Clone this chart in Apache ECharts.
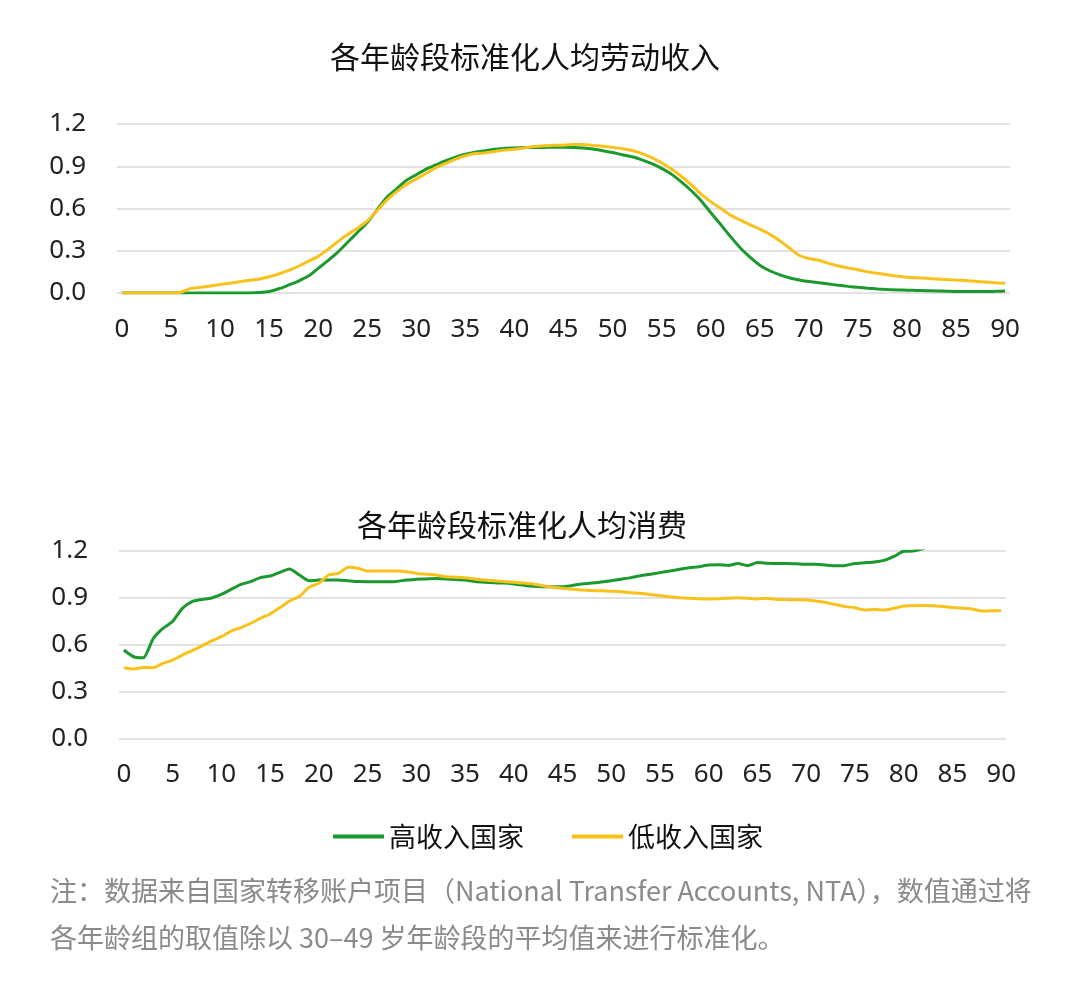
<!DOCTYPE html>
<html>
<head>
<meta charset="utf-8">
<script src="https://cdn.jsdelivr.net/npm/echarts@6/dist/echarts.min.js"></script>
<style>
    html, body {margin: 0; padding: 0; background: #fff;}
    #chart {width: 1080px; height: 981px;}
</style>
</head>
<body>
<div id="chart"></div>
<script>
    // 年龄 0-90
    var ages = [];
    for (var a = 0; a <= 90; a++) ages.push(String(a));

    var yTicks = [0, 0.3, 0.6, 0.9, 1.2];
    var seriesNames = ['高收入国家', '低收入国家'];

    // 各年龄段标准化人均劳动收入
    var laborHigh = [
        0, 0, 0, 0, 0, 0, 0, 0, 0, 0,
        0, 0, 0, 0, 0.003, 0.01, 0.03, 0.057, 0.085, 0.12,
        0.175, 0.23, 0.29, 0.36, 0.43, 0.5, 0.59, 0.68, 0.74, 0.8,
        0.84, 0.88, 0.91, 0.94, 0.965, 0.985, 1.0, 1.01, 1.02, 1.028,
        1.03, 1.033, 1.034, 1.034, 1.035, 1.035, 1.034, 1.03, 1.022, 1.01,
        0.997, 0.982, 0.967, 0.945, 0.918, 0.885, 0.844, 0.789, 0.728, 0.657,
        0.571, 0.488, 0.402, 0.321, 0.254, 0.197, 0.158, 0.13, 0.108, 0.093,
        0.081, 0.073, 0.064, 0.055, 0.047, 0.04, 0.034, 0.029, 0.025, 0.022,
        0.02, 0.018, 0.016, 0.015, 0.013, 0.01, 0.01, 0.01, 0.01, 0.012,
        0.014
    ];
    var laborLow = [
        0, 0, 0, 0, 0, 0, 0.005, 0.033, 0.04, 0.05,
        0.06, 0.07, 0.08, 0.09, 0.1, 0.115, 0.135, 0.16, 0.19, 0.225,
        0.26, 0.31, 0.365, 0.415, 0.46, 0.51, 0.585, 0.66, 0.72, 0.77,
        0.81, 0.85, 0.89, 0.92, 0.95, 0.975, 0.99, 0.995, 1.005, 1.015,
        1.02, 1.03, 1.04, 1.045, 1.05, 1.05, 1.055, 1.055, 1.048, 1.042,
        1.034, 1.025, 1.012, 0.99, 0.961, 0.923, 0.88, 0.829, 0.77, 0.704,
        0.649, 0.602, 0.553, 0.519, 0.485, 0.453, 0.418, 0.373, 0.321, 0.268,
        0.245, 0.232, 0.21, 0.192, 0.178, 0.165, 0.15, 0.14, 0.13, 0.12,
        0.112, 0.108, 0.104, 0.1, 0.096, 0.092, 0.088, 0.083, 0.078, 0.073,
        0.069
    ];

    // 各年龄段标准化人均消费
    var consHigh = [
        0.568, 0.525, 0.518, 0.64, 0.706, 0.75, 0.834, 0.877, 0.89, 0.9,
        0.923, 0.955, 0.987, 1.004, 1.03, 1.04, 1.064, 1.085, 1.047, 1.01,
        1.015, 1.015, 1.015, 1.01, 1.005, 1.004, 1.004, 1.004, 1.006, 1.015,
        1.019, 1.022, 1.025, 1.022, 1.018, 1.015, 1.005, 1.0, 0.997, 0.995,
        0.99, 0.982, 0.975, 0.972, 0.972, 0.972, 0.98, 0.99, 0.995, 1.002,
        1.01, 1.02, 1.03, 1.042, 1.052, 1.062, 1.072, 1.083, 1.093, 1.1,
        1.11, 1.112, 1.108, 1.12, 1.106, 1.126, 1.122, 1.12, 1.12, 1.118,
        1.115, 1.115, 1.11, 1.106, 1.108, 1.12, 1.125, 1.13, 1.14, 1.165,
        1.198, 1.2, 1.215, 1.24, 1.27, 1.3, 1.33, 1.36, 1.39, 1.42,
        1.45
    ];
    var consLow = [
        0.455, 0.447, 0.457, 0.455, 0.483, 0.504, 0.536, 0.564, 0.594, 0.626,
        0.653, 0.689, 0.711, 0.738, 0.77, 0.798, 0.838, 0.881, 0.909, 0.968,
        0.994, 1.047, 1.057, 1.096, 1.09, 1.072, 1.072, 1.072, 1.072, 1.068,
        1.057, 1.052, 1.047, 1.036, 1.033, 1.03, 1.022, 1.015, 1.01, 1.005,
        1.0, 0.995, 0.99, 0.978, 0.968, 0.962, 0.956, 0.951, 0.948, 0.946,
        0.943, 0.94, 0.934, 0.93, 0.922, 0.915, 0.908, 0.902, 0.898, 0.895,
        0.894, 0.895, 0.898, 0.902, 0.898, 0.894, 0.898, 0.891, 0.89, 0.889,
        0.887, 0.88, 0.872, 0.858, 0.845, 0.838, 0.823, 0.828, 0.823, 0.834,
        0.849, 0.851, 0.852, 0.851, 0.846, 0.84, 0.835, 0.83, 0.817, 0.818,
        0.819
    ];

    var colors = ['#1a9a2e', '#f9c11c'];
    var font = '"Noto Sans", "Noto Sans CJK SC", sans-serif';
    var cjkFont = '"Noto Sans CJK SC", sans-serif';

    function xAxisOf(gridIndex, margin) {
        return {
            type       : 'category',
            gridIndex  : gridIndex,
            data       : ages,
            boundaryGap: true,
            axisLine   : {show: false},
            axisTick   : {show: false},
            axisLabel  : {interval: 4, margin: margin, fontSize: 26, color: '#222', fontFamily: font}
        };
    }

    function yAxisOf(gridIndex) {
        return {
            type     : 'value',
            gridIndex: gridIndex,
            min      : yTicks[0],
            max      : yTicks[yTicks.length - 1],
            interval : 0.3,
            axisLine : {show: false},
            axisTick : {show: false},
            axisLabel: {
                margin    : 31,
                fontSize  : 26,
                color     : '#222',
                fontFamily: font,
                formatter : function (v) { return v.toFixed(1); }
            },
            splitLine: {lineStyle: {color: '#d9d9d9', width: 1.5}}
        };
    }

    function lineOf(name, xi, data, color) {
        return {
            name      : name,
            type      : 'line',
            xAxisIndex: xi,
            yAxisIndex: xi,
            data      : data,
            symbol    : 'none',
            smooth    : 0.2,
            clip      : true,
            lineStyle : {color: color, width: 3},
            itemStyle : {color: color}
        };
    }

    var myChart = echarts.init(document.getElementById('chart'));
    var option = {
        animation: false,
        textStyle: {fontFamily: cjkFont},
        title    : [
            {
                text     : '各年龄段标准化人均劳动收入',
                left     : 520, top: 52, textAlign: 'center', textVerticalAlign: 'middle',
                textStyle: {fontSize: 30, fontWeight: 'normal', color: '#111', fontFamily: cjkFont}
            },
            {
                text     : '各年龄段标准化人均消费',
                left     : 517, top: 520, textAlign: 'center', textVerticalAlign: 'middle',
                textStyle: {fontSize: 30, fontWeight: 'normal', color: '#111', fontFamily: cjkFont}
            }
        ],
        legend   : {
            data      : seriesNames,
            icon      : 'rect',
            left      : 328,
            top       : 818,
            itemWidth : 51,
            itemHeight: 4,
            itemGap   : 48,
            textStyle : {fontSize: 27, color: '#111', fontFamily: cjkFont}
        },
        grid     : [
            {left: 117, top: 124, width: 893, height: 169},
            {left: 119, top: 551, width: 887, height: 188}
        ],
        xAxis    : [xAxisOf(0, 24), xAxisOf(1, 23)],
        yAxis    : [yAxisOf(0), yAxisOf(1)],
        series   : [
            lineOf(seriesNames[0], 0, laborHigh, colors[0]),
            lineOf(seriesNames[1], 0, laborLow, colors[1]),
            lineOf(seriesNames[0], 1, consHigh, colors[0]),
            lineOf(seriesNames[1], 1, consLow, colors[1])
        ],
        graphic  : [
            {
                type : 'text', left: 50, top: 877,
                style: {
                    text: '注：数据来自国家转移账户项目（National Transfer Accounts, NTA），数值通过将',
                    fontSize: 27, fill: '#8a8a8a', fontFamily: cjkFont
                }
            },
            {
                type : 'text', left: 50, top: 924,
                style: {
                    text: '各年龄组的取值除以 30–49 岁年龄段的平均值来进行标准化。',
                    fontSize: 27, fill: '#8a8a8a', fontFamily: cjkFont
                }
            }
        ]
    };

    myChart.setOption(option);
</script>
</body>
</html>
